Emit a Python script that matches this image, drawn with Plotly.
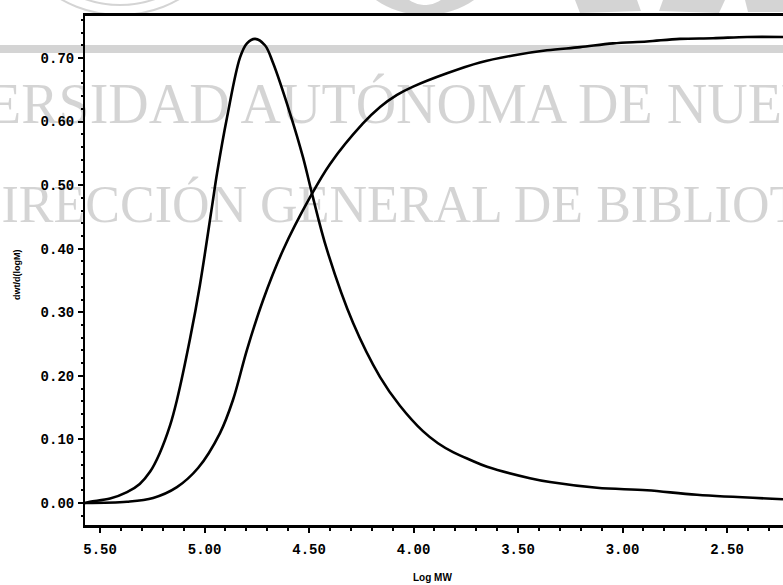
import numpy as np
import plotly.graph_objects as go

# Differential molecular weight distribution, dwt/d(logM) vs log MW
log_mw_diff = [5.572, 5.548, 5.452, 5.371, 5.310, 5.261, 5.215, 5.165, 5.132, 5.069,
               5.022, 4.964, 4.940, 4.892, 4.830, 4.797, 4.758, 4.711, 4.672, 4.591,
               4.529, 4.486, 4.414, 4.289, 4.160, 4.065, 3.955, 3.883, 3.811, 3.730,
               3.648, 3.443, 3.347, 3.122, 2.883, 2.644, 2.232]
dwt_dlogm = [0.000, 0.002, 0.007, 0.017, 0.030, 0.049, 0.078, 0.122, 0.162, 0.259,
             0.343, 0.467, 0.519, 0.607, 0.701, 0.723, 0.730, 0.720, 0.692, 0.613,
             0.544, 0.487, 0.398, 0.283, 0.198, 0.153, 0.113, 0.094, 0.080, 0.068,
             0.057, 0.039, 0.033, 0.024, 0.020, 0.013, 0.006]

# Cumulative distribution (same scale)
log_mw_cum = [5.572, 5.371, 5.246, 5.132, 5.031, 4.926, 4.864, 4.797, 4.720, 4.624,
              4.495, 4.400, 4.242, 4.160, 4.079, 4.002, 3.840, 3.682, 3.524, 3.361,
              3.203, 3.045, 2.883, 2.725, 2.567, 2.404, 2.232]
cumulative = [0.000, 0.002, 0.008, 0.025, 0.055, 0.110, 0.162, 0.241, 0.319, 0.398,
              0.481, 0.533, 0.597, 0.623, 0.642, 0.655, 0.676, 0.693, 0.704, 0.712,
              0.717, 0.723, 0.726, 0.730, 0.731, 0.733, 0.733]

x_ticks = [5.5, 5.0, 4.5, 4.0, 3.5, 3.0, 2.5]
y_ticks = [0.0, 0.1, 0.2, 0.3, 0.4, 0.5, 0.6, 0.7]
x_range = [5.572, 2.232]
y_range = [-0.0346, 0.766]

W, H = 783, 585
ML, MR, MT, MB = 85, 0, 16, 60
PW, PH = W - ML - MR, H - MT - MB


def fx(p):
    """pixel column -> paper x"""
    return (p - ML) / PW


def fy(p):
    """pixel row -> paper y"""
    return (H - MB - p) / PH


GRAY = "rgba(0,0,0,0.17)"

fig = go.Figure()
for xs, ys in [(log_mw_diff, dwt_dlogm), (log_mw_cum, cumulative)]:
    fig.add_trace(go.Scatter(
        x=xs, y=ys, mode="lines",
        line=dict(color="black", width=2.6, shape="spline", smoothing=1.0),
        showlegend=False, hoverinfo="skip",
    ))

tick_font = dict(family="Liberation Mono", size=14, color="black", weight="bold")

fig.update_xaxes(
    range=x_range, tickvals=x_ticks, tickformat=".2f",
    ticks="outside", ticklen=5, tickwidth=2, tickcolor="black",
    showline=True, linewidth=3, linecolor="black", mirror=True,
    showgrid=False, zeroline=False, tickfont=tick_font, ticklabelstandoff=4,
    minor=dict(dtick=0.1, ticks="outside", ticklen=3, tickwidth=2,
               tickcolor="black", showgrid=False),
)
fig.update_yaxes(
    range=y_range, tickvals=y_ticks, tickformat=".2f",
    ticks="outside", ticklen=5, tickwidth=2, tickcolor="black",
    showline=True, linewidth=2, linecolor="black",
    showgrid=False, zeroline=False, tickfont=tick_font, ticklabelstandoff=1,
    minor=dict(dtick=0.02, ticks="outside", ticklen=2, tickwidth=2,
               tickcolor="black", showgrid=False),
)

# Library watermark: text lines, rule and partial seal/letters
annotations = [
    dict(text="UNIVERSIDAD AUTÓNOMA DE NUEVO LEÓN", x=fx(-155), y=fy(104),
         xanchor="left", yanchor="middle",
         font=dict(family="Liberation Serif", size=56, color=GRAY)),
    dict(text="DIRECCIÓN GENERAL DE BIBLIOTECAS", x=fx(-38), y=fy(204),
         xanchor="left", yanchor="middle",
         font=dict(family="Liberation Serif", size=52, color=GRAY)),
]
annotations = [dict(a, xref="paper", yref="paper", showarrow=False)
               for a in annotations]
annotations += [
    dict(text="dwt/d(logM)", x=fx(17), y=fy(275), xref="paper", yref="paper",
         xanchor="center", yanchor="middle", showarrow=False, textangle=-90,
         font=dict(family="Liberation Sans", size=9, color="black", weight="bold")),
    dict(text="Log MW", x=fx(432), y=fy(577), xref="paper", yref="paper",
         xanchor="center", yanchor="middle", showarrow=False,
         font=dict(family="Liberation Sans", size=10, color="black", weight="bold")),
]


def poly_path(pts):
    return "M " + " L ".join(f"{fx(a):.5f},{fy(b):.5f}" for a, b in pts) + " Z"


PAPER = dict(xref="paper", yref="paper")
shapes = [
    dict(type="rect", x0=fx(0), x1=fx(W), y0=fy(53), y1=fy(45),
         fillcolor=GRAY, line=dict(width=0), **PAPER),
    dict(type="circle", x0=fx(2), x1=fx(238), y0=fy(15), y1=fy(-221),
         line=dict(color=GRAY, width=2), **PAPER),
    dict(type="circle", x0=fx(14), x1=fx(226), y0=fy(5), y1=fy(-207),
         line=dict(color=GRAY, width=2), **PAPER),
]

# bottoms of large letters along the top edge
t = np.linspace(0, np.pi, 40)
outer = [(425 + 77 * np.cos(a), -50 + 65 * np.sin(a)) for a in t]
inner = [(425 + 38 * np.cos(a), -50 + 55 * np.sin(a)) for a in t[::-1]]
letter_parts = [
    outer + inner,
    [(575, 0), (637, 0), (641, 11), (580, 13)],
    [(663, 0), (725, 0), (719, 13), (659, 11)],
    [(745, 0), (783, 0), (783, 12), (748, 12)],
]
for pts in letter_parts:
    shapes.append(dict(type="path", path=poly_path(pts), fillcolor=GRAY,
                       line=dict(width=0), **PAPER))

fig.update_layout(
    width=W, height=H,
    margin=dict(l=ML, r=MR, t=MT, b=MB),
    paper_bgcolor="white", plot_bgcolor="white",
    annotations=annotations, shapes=shapes,
)

fig.write_html("out.html")
